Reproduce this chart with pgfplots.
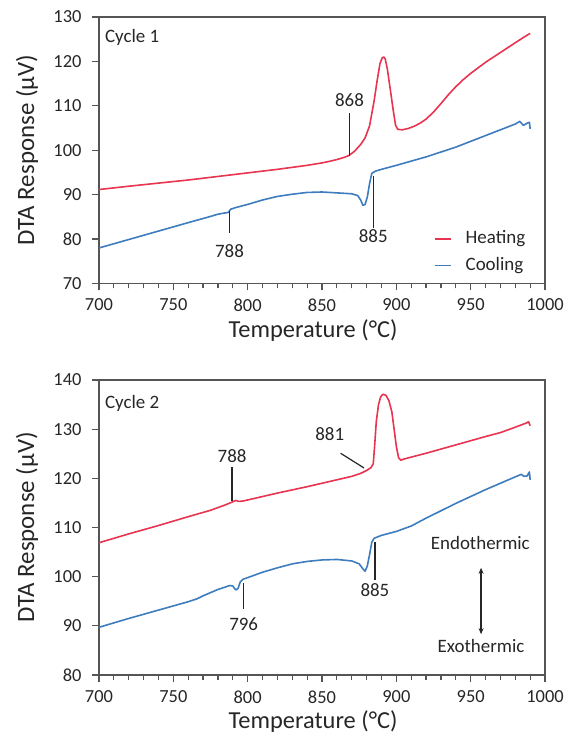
\documentclass[border=0pt]{standalone}
\usepackage{fontspec}
\setmainfont{Carlito}
\usepackage{pgfplots}
\pgfplotsset{compat=1.18}
\usetikzlibrary{arrows.meta}
\definecolor{heat}{RGB}{232,52,80}
\definecolor{cool}{RGB}{62,124,190}
\definecolor{axgray}{RGB}{85,85,85}
\tikzset{
  ann/.style={font=\fontsize{19}{21}\selectfont, inner sep=0pt, text=black!85},
  lead/.style={black!85, line width=1.2bp},
  tk/.style={axgray, line width=1.2bp},
}
\pgfplotsset{dta/.style={
  scale only axis, width=446bp, clip=false,
  xmin=700, xmax=1000,
  xtick={700,750,...,1000}, minor x tick num=4,
  ytick={70,80,...,140},
  tick align=outside, tick pos=left,
  major tick length=7bp, minor tick length=5bp,
  every tick/.append style={axgray, line width=1.2bp},
  axis line style={axgray, line width=1.3bp},
  ticklabel style={font=\fontsize{18.5}{20}\selectfont, text=black!85},
  xticklabel style={yshift=-5bp},
  yticklabel style={xshift=-7bp},
  /pgf/number format/assume math mode=true,
  /pgf/number format/1000 sep={},
  every axis y label/.style={at={(axis description cs:-0.1614,0.5)}, rotate=90, anchor=center,
     font=\fontsize{25}{28}\selectfont, text=black!85},
  xlabel={Temperature (°C)},
  ylabel={DTA Response (µV)},
  every axis plot/.append style={no marks, line width=1.6bp, line join=round},
}}

\begin{document}
\begin{tikzpicture}
\path[use as bounding box] (0bp,0bp) rectangle (569bp,740bp);

% ---------------- Cycle 1 ----------------
\begin{axis}[dta, at={(99bp,456.5bp)}, anchor=south west, height=266.5bp,
  ymin=70, ymax=130,
  every axis x label/.style={at={(axis description cs:0.48,-0.176)}, anchor=center,
     font=\fontsize{24.5}{27}\selectfont, text=black!85}]
\addplot[heat] coordinates {
(700,91.15) (720,91.9) (740,92.6) (760,93.3) (780,94.1) (800,94.9) (820,95.7)
(840,96.6) (850,97.15) (855,97.5) (860,97.9) (865,98.4) (868,98.8) (872,99.8)
(876,101.3) (879,102.8) (882,105.5) (885,111.0) (887,115.5) (889,119.5)
(890.5,120.8) (891.5,121.0) (892.5,120.6) (894,118.2) (896,113.5) (898,108.8)
(899.5,105.6) (901,104.7) (904,104.6) (908,104.9) (912,105.4) (916,106.1)
(920,107.0) (925,108.6) (930,110.5) (935,112.5) (940,114.3) (945,115.9)
(950,117.3) (960,119.8) (970,122.0) (980,124.2) (986,125.5) (990,126.3)
};
\addplot[cool] coordinates {
(700,78.0) (720,79.9) (740,81.8) (760,83.7) (775,85.1) (780,85.6) (785,85.9)
(787,86.0) (788.5,86.7) (792,87.1) (800,87.8) (810,88.8) (820,89.6) (830,90.1)
(840,90.5) (850,90.6) (860,90.4) (870,90.2) (874,89.8) (876,88.8) (877.5,87.6)
(879,87.8) (880.5,89.5) (882,92.5) (883.5,94.8) (886,95.3) (890,95.7)
(900,96.6) (920,98.5) (940,100.7) (960,103.3) (980,105.9) (983,106.5)
(985.5,105.6) (988,106.1) (989.5,106.3) (990,104.8)
};
\pgfplotsinvokeforeach{710,720,...,990}{\draw[tk] ([yshift=-5bp]axis cs:#1,70) -- (axis cs:#1,70);}
\pgfplotsinvokeforeach{700,750,...,1000}{\draw[tk] ([yshift=-7bp]axis cs:#1,70) -- (axis cs:#1,70);}
\pgfplotsinvokeforeach{70,80,...,130}{\draw[tk] ([xshift=-7bp]axis cs:700,#1) -- (axis cs:700,#1);}
\draw[lead] (axis cs:868.5,98.8) -- (axis cs:868.5,108.4);
\node[ann] at (axis cs:868.5,111.3) {868};
\draw[lead] (axis cs:787.8,86.4) -- (axis cs:787.8,81.4);
\node[ann] at (axis cs:787.8,77.3) {788};
\draw[lead] (axis cs:884.5,94.3) -- (axis cs:884.5,82.6);
\node[ann] at (axis cs:884.5,80.6) {885};
\node[ann, anchor=west] at (axis cs:704,125.4) {Cycle 1};
\draw[heat, line width=1.8bp] (axis cs:926,80.05) -- (axis cs:937,80.05);
\node[ann, anchor=west] at (axis cs:946.5,80.05) {Heating};
\draw[cool, line width=1.8bp] (axis cs:926,74.05) -- (axis cs:937,74.05);
\node[ann, anchor=west] at (axis cs:946.5,74.05) {Cooling};
\end{axis}

% ---------------- Cycle 2 ----------------
\begin{axis}[dta, at={(99bp,65bp)}, anchor=south west, height=295bp,
  ymin=80, ymax=140,
  every axis x label/.style={at={(axis description cs:0.48,-0.158)}, anchor=center,
     font=\fontsize{24.5}{27}\selectfont, text=black!85}]
\addplot[heat] coordinates {
(700,106.9) (720,108.7) (740,110.4) (760,112.2) (775,113.5) (785,114.6)
(789,115.1) (792,115.5) (794,115.3) (797,115.4) (800,115.6) (820,117.0)
(840,118.3) (850,119.0) (860,119.7) (870,120.4) (876,121.0) (880,121.6)
(883,122.2) (884.5,123.0) (885.5,127.0) (886.5,131.5) (888,135.0)
(889.5,136.6) (891,137.1) (893,136.9) (895,135.8) (897,133.5) (898.5,130.0)
(900,126.5) (901.5,124.2) (903,123.7) (906,124.0) (920,125.1) (940,126.8)
(960,128.5) (970,129.3) (980,130.4) (987,131.2) (989,131.5) (990,130.7)
};
\addplot[cool] coordinates {
(700,89.7) (720,91.5) (740,93.2) (760,94.9) (766,95.5) (770,96.1) (780,97.4)
(788,98.2) (790,98.1) (792,97.3) (793.5,97.6) (795,98.9) (797,99.5)
(800,99.8) (810,100.9) (820,101.8) (830,102.6) (840,103.1) (850,103.4)
(860,103.5) (870,103.2) (875,102.6) (877.5,101.6) (879,101.1) (880.5,102.2)
(882,104.5) (883.5,107.0) (885,107.8) (890,108.4) (900,109.2) (910,110.3)
(920,111.9) (940,114.9) (960,117.7) (980,120.3) (984,120.8) (986,120.4)
(988,120.5) (989.5,121.3) (990,119.7)
};
\pgfplotsinvokeforeach{710,720,...,990}{\draw[tk] ([yshift=-5bp]axis cs:#1,80) -- (axis cs:#1,80);}
\pgfplotsinvokeforeach{700,750,...,1000}{\draw[tk] ([yshift=-7bp]axis cs:#1,80) -- (axis cs:#1,80);}
\pgfplotsinvokeforeach{80,90,...,140}{\draw[tk] ([xshift=-7bp]axis cs:700,#1) -- (axis cs:700,#1);}
\draw[lead] (axis cs:789.5,115.4) -- (axis cs:789.5,122.4);
\node[ann] at (axis cs:789.5,124.5) {788};
\draw[lead] (axis cs:862.5,125.1) -- (axis cs:878.3,122.1);
\node[ann] at (axis cs:855.2,128.9) {881};
\draw[lead] (axis cs:885.6,107.0) -- (axis cs:885.6,99.3);
\node[ann] at (axis cs:885.6,97.3) {885};
\draw[lead] (axis cs:797.3,98.8) -- (axis cs:797.3,93.4);
\node[ann] at (axis cs:797.3,90.3) {796};
\node[ann, anchor=west] at (axis cs:704,135.3) {Cycle 2};
\node[ann] at (axis cs:956.5,106.9) {Endothermic};
\draw[black!85, line width=1.4bp, {Stealth[length=6bp,width=5bp]}-{Stealth[length=6bp,width=5bp]}] (axis cs:957,101.8) -- (axis cs:957,88.3);
\node[ann] at (axis cs:957,86.0) {Exothermic};
\end{axis}
\end{tikzpicture}
\end{document}
